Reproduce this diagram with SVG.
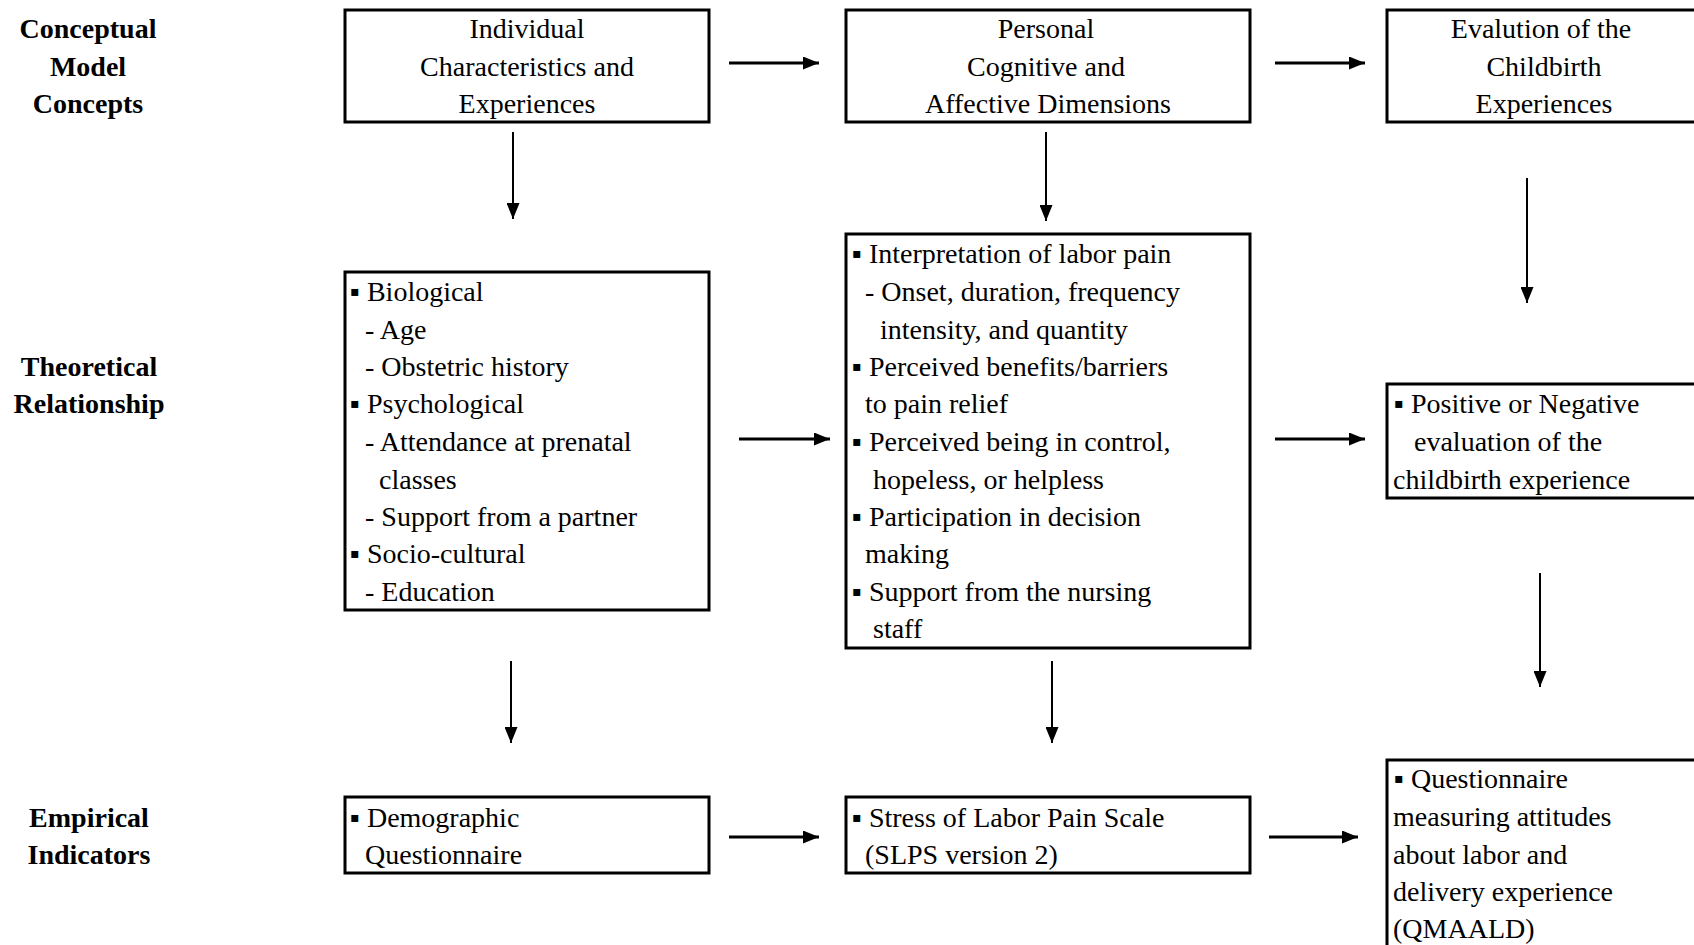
<svg xmlns="http://www.w3.org/2000/svg" width="1694" height="945" viewBox="0 0 1694 945">
<style>
text{font-family:"Liberation Serif","Times New Roman",serif;font-size:28px;fill:#000}
.lab{font-weight:bold;text-anchor:middle}
.c{text-anchor:middle}
.box{fill:#fff;stroke:#000;stroke-width:3}
.ar{stroke:#000;stroke-width:2;fill:none;marker-end:url(#ah)}
.arh{stroke:#000;stroke-width:3;fill:none;marker-end:url(#ah)}
</style>
<defs>
<marker id="ah" markerUnits="userSpaceOnUse" viewBox="0 0 16 13" refX="16" refY="6.5" markerWidth="16" markerHeight="13" orient="auto">
<path d="M0,0 L16,6.5 L0,13 Z" fill="#000"/>
</marker>
</defs>
<rect width="1694" height="945" fill="#fff"/>
<g id="row-labels">
<text class="lab" x="88" y="38">Conceptual</text>
<text class="lab" x="88" y="76">Model</text>
<text class="lab" x="88" y="113">Concepts</text>
<text class="lab" x="89" y="376">Theoretical</text>
<text class="lab" x="89" y="413">Relationship</text>
<text class="lab" x="89" y="827">Empirical</text>
<text class="lab" x="89" y="864">Indicators</text>
</g>
<g id="connectors">
<line class="arh" x1="729" y1="63" x2="819" y2="63"/>
<line class="arh" x1="1275" y1="63" x2="1365" y2="63"/>
<line class="ar" x1="513" y1="132" x2="513" y2="219"/>
<line class="ar" x1="1046" y1="132" x2="1046" y2="221"/>
<line class="ar" x1="1527" y1="178" x2="1527" y2="303"/>
<line class="arh" x1="739" y1="439" x2="830" y2="439"/>
<line class="arh" x1="1275" y1="439" x2="1365" y2="439"/>
<line class="ar" x1="511" y1="661" x2="511" y2="743"/>
<line class="ar" x1="1052" y1="661" x2="1052" y2="743"/>
<line class="ar" x1="1540" y1="573" x2="1540" y2="687"/>
<line class="arh" x1="729" y1="837" x2="819" y2="837"/>
<line class="arh" x1="1269" y1="837" x2="1358" y2="837"/>
</g>
<g id="individual">
<rect class="box" x="345" y="10" width="364" height="112"/>
<text class="c" x="527" y="38">Individual</text>
<text class="c" x="527" y="76">Characteristics and</text>
<text class="c" x="527" y="113">Experiences</text>
</g>
<g id="personal">
<rect class="box" x="846" y="10" width="404" height="112"/>
<text class="c" x="1046" y="38">Personal</text>
<text class="c" x="1046" y="76">Cognitive and</text>
<text class="c" x="1048" y="113">Affective Dimensions</text>
</g>
<g id="evaluation">
<rect class="box" x="1387" y="10" width="320" height="112"/>
<text class="c" x="1541" y="38">Evalution of the</text>
<text class="c" x="1544" y="76">Childbirth</text>
<text class="c" x="1544" y="113">Experiences</text>
</g>
<g id="theory-individual">
<rect class="box" x="345" y="272" width="364" height="338"/>
<text x="350" y="301">▪ Biological</text>
<text x="365" y="339">- Age</text>
<text x="365" y="376">- Obstetric history</text>
<text x="350" y="413">▪ Psychological</text>
<text x="365" y="451">- Attendance at prenatal</text>
<text x="379" y="489">classes</text>
<text x="365" y="526">- Support from a partner</text>
<text x="350" y="563">▪ Socio-cultural</text>
<text x="365" y="601">- Education</text>
</g>
<g id="theory-personal">
<rect class="box" x="846" y="234" width="404" height="414"/>
<text x="852" y="263">▪ Interpretation of labor pain</text>
<text x="865" y="301">- Onset, duration, frequency</text>
<text x="880" y="339">intensity, and quantity</text>
<text x="852" y="376">▪ Perceived benefits/barriers</text>
<text x="865" y="413">to pain relief</text>
<text x="852" y="451">▪ Perceived being in control,</text>
<text x="873" y="489">hopeless, or helpless</text>
<text x="852" y="526">▪ Participation in decision</text>
<text x="865" y="563">making</text>
<text x="852" y="601">▪ Support from the nursing</text>
<text x="873" y="638">staff</text>
</g>
<g id="theory-evaluation">
<rect class="box" x="1387" y="384" width="320" height="114"/>
<text x="1394" y="413">▪ Positive or Negative</text>
<text x="1414" y="451">evaluation of the</text>
<text x="1393" y="489">childbirth experience</text>
</g>
<g id="emp-demographic">
<rect class="box" x="345" y="797" width="364" height="76"/>
<text x="350" y="827">▪ Demographic</text>
<text x="365" y="864">Questionnaire</text>
</g>
<g id="emp-slps">
<rect class="box" x="846" y="797" width="404" height="76"/>
<text x="852" y="827">▪ Stress of Labor Pain Scale</text>
<text x="865" y="864">(SLPS version 2)</text>
</g>
<g id="emp-qmaald">
<rect class="box" x="1387" y="760" width="320" height="200"/>
<text x="1394" y="788">▪ Questionnaire</text>
<text x="1393" y="826">measuring attitudes</text>
<text x="1393" y="864">about labor and</text>
<text x="1393" y="901">delivery experience</text>
<text x="1393" y="938">(QMAALD)</text>
</g>
</svg>
